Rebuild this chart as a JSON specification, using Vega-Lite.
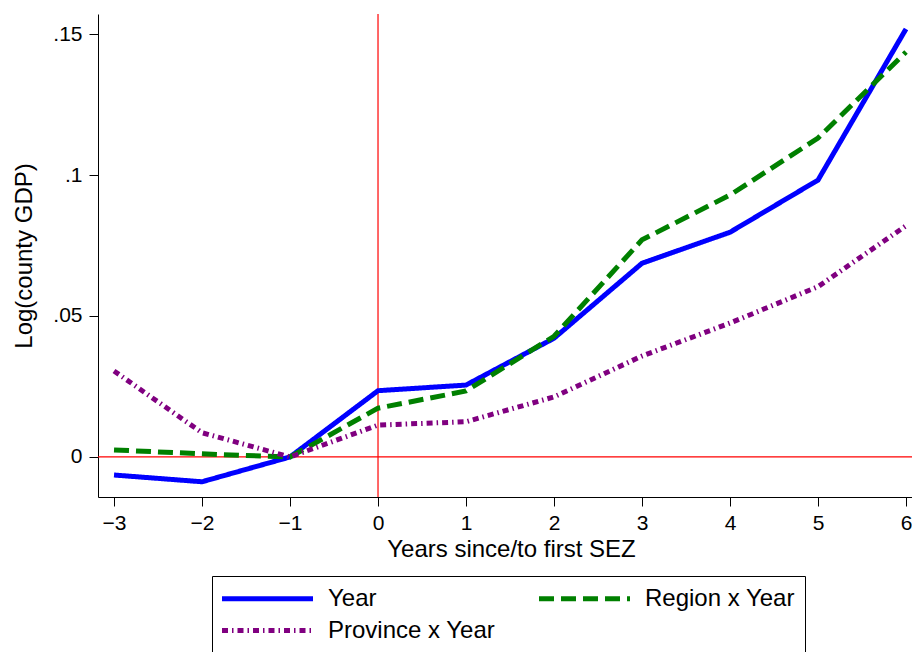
{
  "$schema": "https://vega.github.io/schema/vega-lite/v6.json",
  "width": 814,
  "height": 483,
  "autosize": "none",
  "padding": {"left": 98, "top": 14, "right": 0, "bottom": 155},
  "background": "white",
  "config": {
    "view": {"stroke": null},
    "font": "Liberation Sans",
    "axis": {
      "grid": false,
      "domainColor": "black",
      "domainWidth": 1,
      "tickColor": "black",
      "tickSize": 9,
      "tickWidth": 1,
      "labelColor": "black",
      "labelFont": "Liberation Sans",
      "labelFontSize": 21,
      "titleFont": "Liberation Sans",
      "titleFontSize": 24,
      "titleFontWeight": "normal",
      "titleColor": "black"
    },
    "legend": {
      "title": null,
      "orient": "none",
      "legendX": 114,
      "legendY": 562,
      "direction": "horizontal",
      "columns": 2,
      "symbolType": "M-4.55,0H4.55",
      "symbolSize": 400,
      "symbolOffset": 33,
      "symbolStrokeWidth": 5,
      "symbolFillColor": "transparent",
      "labelFontSize": 24,
      "labelFont": "Liberation Sans",
      "labelColor": "black",
      "labelOffset": 48,
      "labelLimit": 400,
      "padding": 10,
      "strokeColor": "black",
      "fillColor": "white",
      "columnPadding": 33,
      "rowPadding": 7
    }
  },
  "datasets": {
    "series": [
      {"t": -3, "v": -0.0064, "s": "Year"},
      {"t": -2, "v": -0.0088, "s": "Year"},
      {"t": -1, "v": 0.0, "s": "Year"},
      {"t": 0, "v": 0.0235, "s": "Year"},
      {"t": 1, "v": 0.0255, "s": "Year"},
      {"t": 2, "v": 0.0421, "s": "Year"},
      {"t": 3, "v": 0.0687, "s": "Year"},
      {"t": 4, "v": 0.0797, "s": "Year"},
      {"t": 5, "v": 0.0982, "s": "Year"},
      {"t": 6, "v": 0.1518, "s": "Year"},
      {"t": -3, "v": 0.0025, "s": "Region x Year"},
      {"t": -2, "v": 0.0011, "s": "Region x Year"},
      {"t": -1, "v": 0.0, "s": "Region x Year"},
      {"t": 0, "v": 0.0173, "s": "Region x Year"},
      {"t": 1, "v": 0.0234, "s": "Region x Year"},
      {"t": 2, "v": 0.0428, "s": "Region x Year"},
      {"t": 3, "v": 0.0770, "s": "Region x Year"},
      {"t": 4, "v": 0.0929, "s": "Region x Year"},
      {"t": 5, "v": 0.1131, "s": "Region x Year"},
      {"t": 6, "v": 0.1436, "s": "Region x Year"},
      {"t": -3, "v": 0.0305, "s": "Province x Year"},
      {"t": -2, "v": 0.0086, "s": "Province x Year"},
      {"t": -1, "v": 0.0, "s": "Province x Year"},
      {"t": 0, "v": 0.0113, "s": "Province x Year"},
      {"t": 1, "v": 0.0125, "s": "Province x Year"},
      {"t": 2, "v": 0.0213, "s": "Province x Year"},
      {"t": 3, "v": 0.0358, "s": "Province x Year"},
      {"t": 4, "v": 0.0475, "s": "Province x Year"},
      {"t": 5, "v": 0.0604, "s": "Province x Year"},
      {"t": 6, "v": 0.0820, "s": "Province x Year"}
    ],
    "vref": [{"t": 0}],
    "href": [{"v": 0}]
  },
  "layer": [
    {
      "data": {"name": "vref"},
      "mark": {"type": "rule", "color": "#FF0000", "strokeWidth": 1.2},
      "encoding": {
        "x": {"field": "t", "type": "quantitative"}
      }
    },
    {
      "data": {"name": "href"},
      "mark": {"type": "rule", "color": "#FF0000", "strokeWidth": 1.2},
      "encoding": {
        "y": {"field": "v", "type": "quantitative"}
      }
    },
    {
      "data": {"name": "series"},
      "transform": [{"filter": "datum.s == 'Year'"}],
      "mark": {"type": "line", "strokeWidth": 5},
      "encoding": {
        "x": {
          "field": "t", "type": "quantitative",
          "scale": {"domain": [-3.182, 6.068], "nice": false, "zero": false},
          "axis": {
            "title": "Years since/to first SEZ",
            "values": [-3, -2, -1, 0, 1, 2, 3, 4, 5, 6],
            "format": "d",
            "labelBaseline": "alphabetic",
            "labelPadding": 23,
            "titleX": 413,
            "titleY": 59,
            "titleBaseline": "alphabetic",
            "titleAlign": "center"
          }
        },
        "y": {
          "field": "v", "type": "quantitative",
          "scale": {"domain": [-0.0142, 0.1571], "nice": false, "zero": false},
          "axis": {
            "title": "Log(county GDP)",
            "values": [0, 0.05, 0.1, 0.15],
            "labelExpr": "datum.value == 0 ? '0' : replace(format(datum.value, '.2~f'), '0.', '.')",
            "labelPadding": 7,
            "labelBaseline": "middle",
            "titleAngle": -90,
            "titleX": -67,
            "titleY": 241.5,
            "titleBaseline": "alphabetic",
            "titleAlign": "center"
          }
        },
        "color": {
          "field": "s", "type": "nominal",
          "scale": {"domain": ["Year", "Region x Year", "Province x Year"], "range": ["#0000FF", "#008000", "#800080"]},
          "legend": {"title": null, "direction": "horizontal", "columns": 2}
        },
        "strokeDash": {
          "field": "s", "type": "nominal",
          "scale": {"domain": ["Year", "Region x Year", "Province x Year"], "range": [[1, 0], [15, 7], [6, 4, 1.5, 4]]},
          "legend": {"title": null, "direction": "horizontal", "columns": 2}
        }
      }
    },
    {
      "data": {"name": "series"},
      "transform": [{"filter": "datum.s == 'Region x Year'"}],
      "mark": {"type": "line", "strokeWidth": 5},
      "encoding": {
        "x": {"field": "t", "type": "quantitative"},
        "y": {"field": "v", "type": "quantitative"},
        "color": {"field": "s", "type": "nominal"},
        "strokeDash": {"field": "s", "type": "nominal"}
      }
    },
    {
      "data": {"name": "series"},
      "transform": [{"filter": "datum.s == 'Province x Year'"}],
      "mark": {"type": "line", "strokeWidth": 5},
      "encoding": {
        "x": {"field": "t", "type": "quantitative"},
        "y": {"field": "v", "type": "quantitative"},
        "color": {"field": "s", "type": "nominal"},
        "strokeDash": {"field": "s", "type": "nominal"}
      }
    }
  ]
}
